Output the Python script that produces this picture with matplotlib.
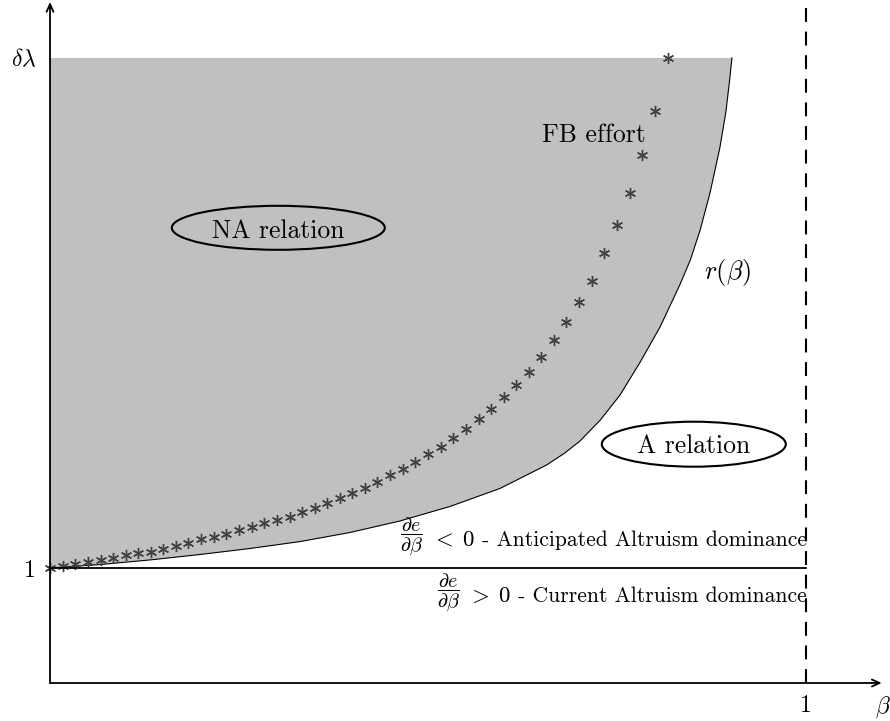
import numpy as np
import matplotlib
matplotlib.use('Agg')
import matplotlib.pyplot as plt
from matplotlib.patches import Ellipse

plt.rcParams['mathtext.fontset'] = 'cm'
plt.rcParams['font.family'] = ['cmr10', 'DejaVu Serif']
plt.rcParams['axes.unicode_minus'] = False
plt.rcParams['axes.formatter.use_mathtext'] = True
plt.rcParams['lines.scale_dashes'] = False

# ---------------- data ----------------
DL = 5.435          # height of delta*lambda level
# r(beta) boundary curve
r_beta = [0.000, 0.066, 0.132, 0.198, 0.265, 0.331, 0.397, 0.463, 0.529, 0.595,
          0.657, 0.681, 0.701, 0.728, 0.754, 0.780, 0.807, 0.833, 0.847, 0.860,
          0.873, 0.886, 0.894, 0.899, 0.902]
r_val = [1.000, 1.030, 1.070, 1.117, 1.170, 1.230, 1.309, 1.409, 1.535, 1.691,
         1.896, 2.000, 2.104, 2.287, 2.504, 2.783, 3.096, 3.461, 3.678, 3.939,
         4.261, 4.652, 4.965, 5.243, 5.435]
# FB effort (asterisks)
fb_beta = [0.000, 0.017, 0.033, 0.050, 0.067, 0.083, 0.100, 0.117, 0.133, 0.150,
           0.167, 0.183, 0.200, 0.217, 0.233, 0.250, 0.267, 0.283, 0.300, 0.317,
           0.333, 0.350, 0.367, 0.383, 0.400, 0.417, 0.433, 0.450, 0.467, 0.483,
           0.500, 0.517, 0.533, 0.550, 0.567, 0.583, 0.600, 0.617, 0.633, 0.650,
           0.667, 0.683, 0.700, 0.717, 0.733, 0.750, 0.767, 0.783, 0.800, 0.817]
fb_val = [1.000, 1.017, 1.035, 1.050, 1.070, 1.090, 1.111, 1.128, 1.142, 1.168,
          1.191, 1.217, 1.250, 1.272, 1.293, 1.330, 1.354, 1.389, 1.417, 1.446,
          1.490, 1.524, 1.563, 1.606, 1.650, 1.698, 1.750, 1.809, 1.861, 1.924,
          1.989, 2.055, 2.133, 2.209, 2.296, 2.385, 2.490, 2.591, 2.704, 2.835,
          2.983, 3.139, 3.310, 3.496, 3.739, 3.983, 4.261, 4.591, 4.974, 5.435]

# ---------------- figure ----------------
fig = plt.figure(figsize=(8.9, 7.21), dpi=100)
ax = fig.add_axes([0, 0, 1, 1])
ax.set_xlim(-50 / 756, 840 / 756)
ax.set_ylim(-38 / 115, 683 / 115)
ax.axis('off')

# gray region
ax.fill(list(r_beta) + [0.0], list(r_val) + [DL], color='#c0c0c0', lw=0, zorder=1)
ax.plot(r_beta, r_val, color='black', lw=0.8, zorder=2, solid_joinstyle='round')

# FB effort asterisks
ax.plot(fb_beta, fb_val, ls='none', marker=(6, 2, 0), ms=8, mew=1.0,
        color='#404040', zorder=3)

# horizontal line at 1
ax.plot([0, 1], [1, 1], color='black', lw=1.3, zorder=4)
# dashed vertical at beta = 1
ax.plot([1, 1], [0, 6.2], color='black', lw=1.5, dashes=(10, 7), zorder=4)

# axes with arrows
arrow = dict(arrowstyle='->,head_length=0.55,head_width=0.25', lw=1.3,
             color='black', shrinkA=0, shrinkB=0)
ax.annotate('', xy=(831.7 / 756, 0), xytext=(0, 0), arrowprops=arrow, zorder=5)
ax.annotate('', xy=(0, 681 / 115), xytext=(0, 0), arrowprops=arrow, zorder=5)

# axis labels
ax.text(-13 / 756, (683 - 66) / 115, r'$\delta\lambda$', ha='right', va='baseline', fontsize=17)
ax.text(-14 / 756, (683 - 577) / 115, '1', ha='right', va='baseline', fontsize=17)
ax.text(1.0, (683 - 712) / 115, '1', ha='center', va='baseline', fontsize=17)
ax.text(833 / 756, (683 - 712.5) / 115, r'$\beta$', ha='center', va='baseline', fontsize=17)

# curve labels
ax.text(677 / 756, (683 - 278.6) / 115, r'$r(\beta)$', ha='center', va='baseline', fontsize=19)
ax.text(492 / 756, (683 - 142) / 115, 'FB effort', ha='left', va='baseline', fontsize=18.5)

# ellipses with labels
ax.add_patch(Ellipse((228.3 / 756, (683 - 227.8) / 115), 213 / 756, 44 / 115,
                     fill=False, lw=1.5, ec='black', zorder=6))
ax.text(228.3 / 756, (683 - 237.7) / 115, 'NA relation', ha='center', va='baseline',
        fontsize=18.5, zorder=7)
ax.add_patch(Ellipse((643.8 / 756, (683 - 444.2) / 115), 184 / 756, 45 / 115,
                     fill=False, lw=1.5, ec='black', zorder=6))
ax.text(643.3 / 756, (683 - 453.3) / 115, 'A relation', ha='center', va='baseline',
        fontsize=18.5, zorder=7)

# dominance texts
fig.canvas.draw()
renderer = fig.canvas.get_renderer()
inv = ax.transData.inverted()
for ybase, word, sign in [((683 - 546) / 115, ' - Anticipated Altruism dominance', '<'),
                          ((683 - 601.7) / 115, ' - Current Altruism dominance', '>')]:
    t = ax.text(1.001, ybase, word, ha='right', va='baseline', fontsize=15.5, zorder=7)
    bb = t.get_window_extent(renderer)
    xl = inv.transform((bb.x0, 0))[0]
    t2 = ax.text(xl, ybase, r'$%s\;0$' % sign, ha='right', va='baseline',
                 fontsize=16.5, zorder=7)
    bb2 = t2.get_window_extent(renderer)
    xl2 = inv.transform((bb2.x0 - 7, 0))[0]
    ax.text(xl2, ybase + 10 / 115, r'$\dfrac{\partial e}{\partial \beta}$',
            ha='right', va='center', fontsize=14.5, zorder=7)

fig.savefig('out.png', dpi=100)
